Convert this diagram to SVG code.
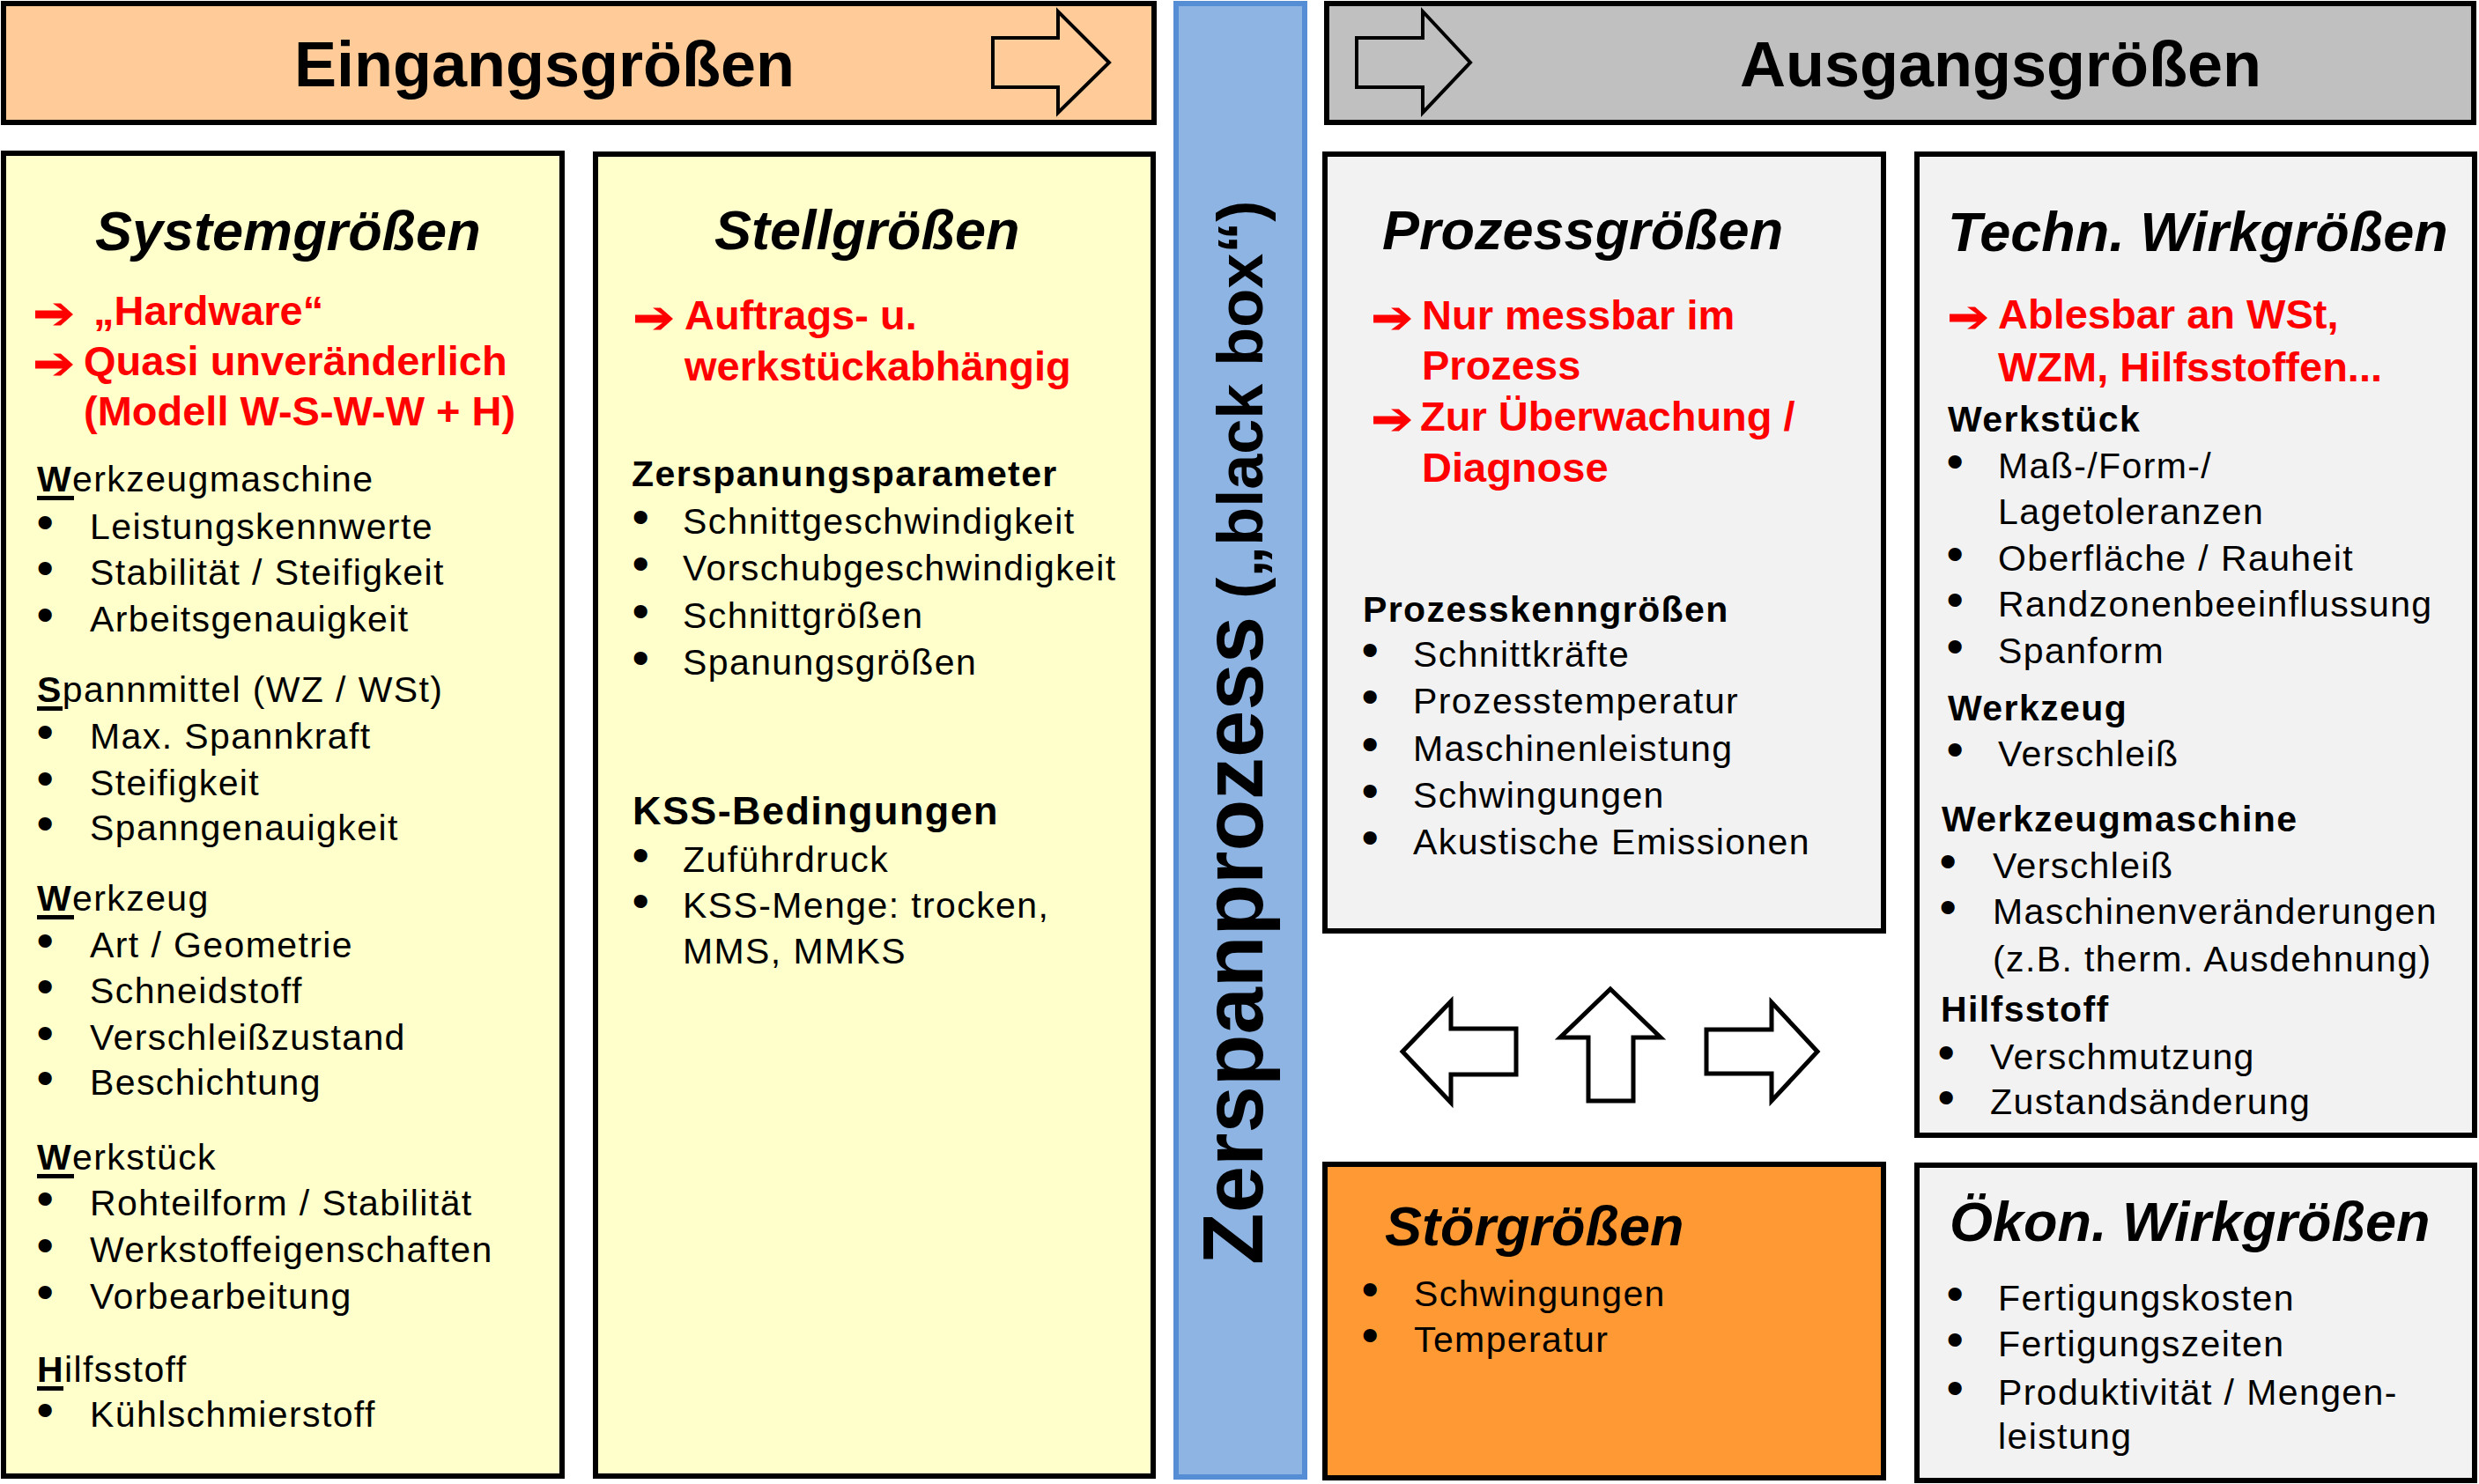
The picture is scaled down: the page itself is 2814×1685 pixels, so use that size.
<svg xmlns="http://www.w3.org/2000/svg" width="2814" height="1685" viewBox="0 0 2814 1685">
<style>
text{font-family:"Liberation Sans",Arial,sans-serif;fill:#000}
.box{stroke:#000;stroke-width:6}
.y{fill:#FFFFCC}
.g{fill:#F2F2F2}
.big{font-size:72px;font-weight:bold;text-anchor:middle}
.h{font-size:63px;font-weight:bold;font-style:italic}
.t{font-size:41px;letter-spacing:1.4px}
.b{font-size:41px;letter-spacing:1.4px;font-weight:bold}
.kss{font-size:45px;letter-spacing:1.4px;font-weight:bold}
.r{font-size:47px;font-weight:bold;fill:#FF0000}
.bu{font-size:41px;stroke:#000;stroke-width:4;stroke-linejoin:round}
.u{font-weight:bold}
.ul{fill:#000}
.ra{fill:#FF0000}
.blk{fill:none;stroke:#000;stroke-width:4}
.mid{fill:#fff;stroke:#000;stroke-width:5}
</style>
<defs>
<polygon id="redarrow" points="0,-4.5 31,-4.5 20,-12.5 29,-12.5 43,0 29,12.5 20,12.5 31,4.5 0,4.5"/>
</defs>

<g id="eingangsgroessen">
<rect class="box" x="4" y="4" width="1306" height="135" fill="#FFCC99"/>
<text class="big" x="618" y="98">Eingangsgrößen</text>
<polygon class="blk" points="1127,43 1201,43 1201,13 1259,71 1201,128 1201,99 1127,99"/>
</g>

<g id="ausgangsgroessen">
<rect class="box" x="1506" y="4" width="1302" height="135" fill="#C0C0C0"/>
<text class="big" x="2271" y="98">Ausgangsgrößen</text>
<polygon class="blk" points="1540,43 1615,43 1615,13 1669,71 1615,128 1615,99 1540,99"/>
</g>

<g id="zerspanprozess">
<rect x="1335" y="4" width="146" height="1673" fill="#8EB4E3" stroke="#558ED5" stroke-width="6"/>
<text transform="translate(1433,1436) rotate(-90)" font-weight="bold"><tspan font-size="96px">Zerspanprozess</tspan><tspan font-size="72px"> („black box“)</tspan></text>
</g>

<g id="systemgroessen">
<rect class="box y" x="4" y="174" width="634" height="1502"/>
<text class="h" x="108" y="284">Systemgrößen</text>
<use href="#redarrow" class="ra" x="40" y="357"/>
<text class="r" x="106" y="369">„Hardware“</text>
<use href="#redarrow" class="ra" x="40" y="414"/>
<text class="r" x="95" y="426">Quasi unveränderlich</text>
<text class="r" x="95" y="483">(Modell W-S-W-W + H)</text>
<text class="t" x="42" y="558"><tspan class="u">W</tspan>erkzeugmaschine</text>
<rect class="ul" x="42" y="563" width="42" height="5"/>
<text class="bu" x="44" y="607">•</text><text class="t" x="102" y="612">Leistungskennwerte</text>
<text class="bu" x="44" y="659">•</text><text class="t" x="102" y="664">Stabilität / Steifigkeit</text>
<text class="bu" x="44" y="712">•</text><text class="t" x="102" y="717">Arbeitsgenauigkeit</text>
<text class="t" x="42" y="797"><tspan class="u">S</tspan>pannmittel (WZ / WSt)</text>
<rect class="ul" x="42" y="802" width="29" height="5"/>
<text class="bu" x="44" y="845">•</text><text class="t" x="102" y="850">Max. Spannkraft</text>
<text class="bu" x="44" y="898">•</text><text class="t" x="102" y="903">Steifigkeit</text>
<text class="bu" x="44" y="949">•</text><text class="t" x="102" y="954">Spanngenauigkeit</text>
<text class="t" x="42" y="1034"><tspan class="u">W</tspan>erkzeug</text>
<rect class="ul" x="42" y="1039" width="42" height="5"/>
<text class="bu" x="44" y="1082">•</text><text class="t" x="102" y="1087">Art / Geometrie</text>
<text class="bu" x="44" y="1134">•</text><text class="t" x="102" y="1139">Schneidstoff</text>
<text class="bu" x="44" y="1187">•</text><text class="t" x="102" y="1192">Verschleißzustand</text>
<text class="bu" x="44" y="1238">•</text><text class="t" x="102" y="1243">Beschichtung</text>
<text class="t" x="42" y="1328"><tspan class="u">W</tspan>erkstück</text>
<rect class="ul" x="42" y="1333" width="42" height="5"/>
<text class="bu" x="44" y="1375">•</text><text class="t" x="102" y="1380">Rohteilform / Stabilität</text>
<text class="bu" x="44" y="1428">•</text><text class="t" x="102" y="1433">Werkstoffeigenschaften</text>
<text class="bu" x="44" y="1481">•</text><text class="t" x="102" y="1486">Vorbearbeitung</text>
<text class="t" x="42" y="1569"><tspan class="u">H</tspan>ilfsstoff</text>
<rect class="ul" x="42" y="1574" width="30" height="5"/>
<text class="bu" x="44" y="1615">•</text><text class="t" x="102" y="1620">Kühlschmierstoff</text>
</g>

<g id="stellgroessen">
<rect class="box y" x="676" y="175" width="633" height="1501"/>
<text class="h" x="811" y="283">Stellgrößen</text>
<use href="#redarrow" class="ra" x="721" y="362"/>
<text class="r" x="777" y="374">Auftrags- u.</text>
<text class="r" x="777" y="432">werkstückabhängig</text>
<text class="b" x="717" y="552">Zerspanungsparameter</text>
<text class="bu" x="720" y="601">•</text><text class="t" x="775" y="606">Schnittgeschwindigkeit</text>
<text class="bu" x="720" y="654">•</text><text class="t" x="775" y="659">Vorschubgeschwindigkeit</text>
<text class="bu" x="720" y="708">•</text><text class="t" x="775" y="713">Schnittgrößen</text>
<text class="bu" x="720" y="761">•</text><text class="t" x="775" y="766">Spanungsgrößen</text>
<text class="kss" x="718" y="936">KSS-Bedingungen</text>
<text class="bu" x="720" y="985">•</text><text class="t" x="775" y="990">Zuführdruck</text>
<text class="bu" x="720" y="1037">•</text><text class="t" x="775" y="1042">KSS-Menge: trocken,</text>
<text class="t" x="775" y="1094">MMS, MMKS</text>
</g>

<g id="prozessgroessen">
<rect class="box g" x="1504" y="175" width="634" height="882"/>
<text class="h" x="1569" y="283">Prozessgrößen</text>
<use href="#redarrow" class="ra" x="1559" y="362"/>
<text class="r" x="1614" y="374">Nur messbar im</text>
<text class="r" x="1614" y="431">Prozess</text>
<use href="#redarrow" class="ra" x="1559" y="477"/>
<text class="r" x="1612" y="489">Zur Überwachung /</text>
<text class="r" x="1614" y="547">Diagnose</text>
<text class="b" x="1547" y="706">Prozesskenngrößen</text>
<text class="bu" x="1548" y="752">•</text><text class="t" x="1604" y="757">Schnittkräfte</text>
<text class="bu" x="1548" y="805">•</text><text class="t" x="1604" y="810">Prozesstemperatur</text>
<text class="bu" x="1548" y="859">•</text><text class="t" x="1604" y="864">Maschinenleistung</text>
<text class="bu" x="1548" y="912">•</text><text class="t" x="1604" y="917">Schwingungen</text>
<text class="bu" x="1548" y="965">•</text><text class="t" x="1604" y="970">Akustische Emissionen</text>
</g>

<g id="stoergroessen">
<rect class="box" x="1504" y="1322" width="634" height="356" fill="#FF9933"/>
<text class="h" x="1572" y="1414">Störgrößen</text>
<text class="bu" x="1548" y="1478">•</text><text class="t" x="1605" y="1483">Schwingungen</text>
<text class="bu" x="1548" y="1530">•</text><text class="t" x="1605" y="1535">Temperatur</text>
</g>

<g id="techn-wirkgroessen">
<rect class="box g" x="2176" y="175" width="633" height="1114"/>
<text class="h" x="2211" y="285">Techn. Wirkgrößen</text>
<use href="#redarrow" class="ra" x="2213" y="361"/>
<text class="r" x="2268" y="373">Ablesbar an WSt,</text>
<text class="r" x="2268" y="433">WZM, Hilfsstoffen...</text>
<text class="b" x="2211" y="490">Werkstück</text>
<text class="bu" x="2212" y="538">•</text><text class="t" x="2268" y="543">Maß-/Form-/</text>
<text class="t" x="2268" y="595">Lagetoleranzen</text>
<text class="bu" x="2212" y="643">•</text><text class="t" x="2268" y="648">Oberfläche / Rauheit</text>
<text class="bu" x="2212" y="695">•</text><text class="t" x="2268" y="700">Randzonenbeeinflussung</text>
<text class="bu" x="2212" y="748">•</text><text class="t" x="2268" y="753">Spanform</text>
<text class="b" x="2211" y="818">Werkzeug</text>
<text class="bu" x="2212" y="865">•</text><text class="t" x="2268" y="870">Verschleiß</text>
<text class="b" x="2204" y="944">Werkzeugmaschine</text>
<text class="bu" x="2204" y="992">•</text><text class="t" x="2262" y="997">Verschleiß</text>
<text class="bu" x="2204" y="1044">•</text><text class="t" x="2262" y="1049">Maschinenveränderungen</text>
<text class="t" x="2262" y="1103">(z.B. therm. Ausdehnung)</text>
<text class="b" x="2203" y="1160">Hilfsstoff</text>
<text class="bu" x="2202" y="1209">•</text><text class="t" x="2259" y="1214">Verschmutzung</text>
<text class="bu" x="2202" y="1260">•</text><text class="t" x="2259" y="1265">Zustandsänderung</text>
</g>

<g id="oekon-wirkgroessen">
<rect class="box g" x="2176" y="1323" width="633" height="358"/>
<text class="h" x="2213" y="1409">Ökon. Wirkgrößen</text>
<text class="bu" x="2212" y="1483">•</text><text class="t" x="2268" y="1488">Fertigungskosten</text>
<text class="bu" x="2212" y="1535">•</text><text class="t" x="2268" y="1540">Fertigungszeiten</text>
<text class="bu" x="2212" y="1590">•</text><text class="t" x="2268" y="1595">Produktivität / Mengen-</text>
<text class="t" x="2268" y="1645">leistung</text>
</g>

<g id="connectors">
<polygon class="mid" points="1592,1194 1647,1137 1647,1168 1721,1168 1721,1220 1647,1220 1647,1252"/>
<polygon class="mid" points="1828,1123 1885,1178 1854,1178 1854,1250 1803,1250 1803,1178 1771,1178"/>
<polygon class="mid" points="2063,1194 2011,1138 2011,1169 1937,1169 1937,1219 2011,1219 2011,1250"/>
</g>
</svg>
